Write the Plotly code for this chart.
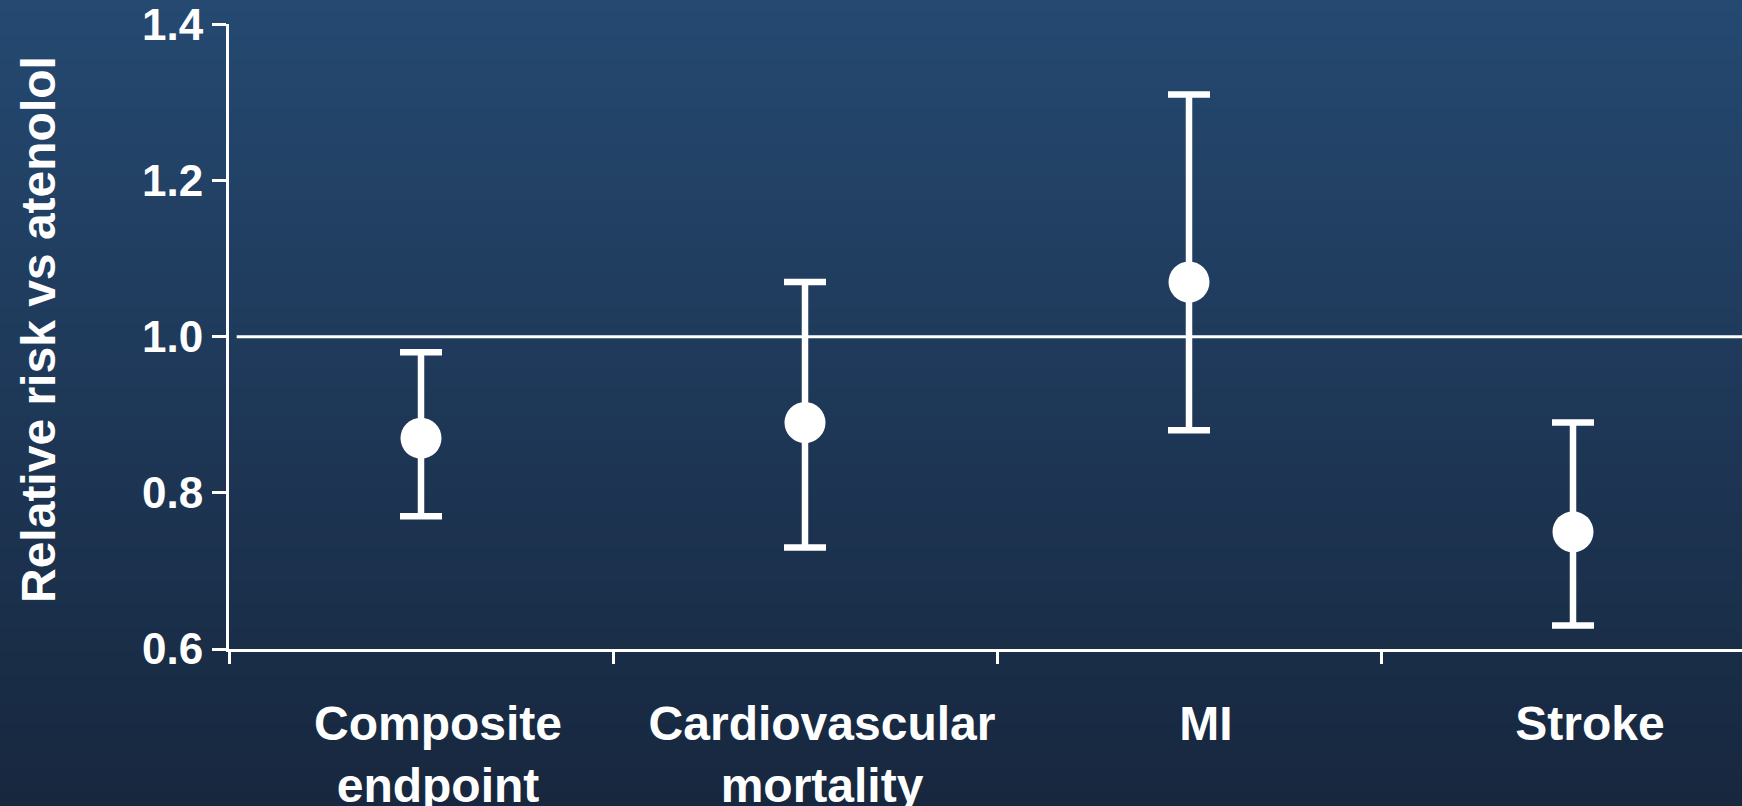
import base64
import struct
import zlib

import plotly.graph_objects as go

# LIFE trial: losartan relative risk vs atenolol, with 95% CI
categories = ["Composite<br>endpoint", "Cardiovascular<br>mortality", "MI", "Stroke"]
relative_risk = [0.87, 0.89, 1.07, 0.75]
ci_lower = [0.77, 0.73, 0.88, 0.63]
ci_upper = [0.98, 1.07, 1.31, 0.89]
y_ticks = [0.6, 0.8, 1.0, 1.2, 1.4]

W, H = 1742, 806
M_L, M_R, M_T, M_B = 229, 0, 24, 157
PLOT_W = W - M_L - M_R
PLOT_H = H - M_T - M_B
FONT = "Liberation Sans, Arial, sans-serif"

TOP_RGB = (37, 73, 113)
BOTTOM_RGB = (23, 39, 62)


def gradient_png(width, height, top, bottom):
    raw = b""
    for r in range(height):
        t = r / (height - 1)
        px = bytes(int(round(a + (b - a) * t)) for a, b in zip(top, bottom))
        raw += b"\x00" + px * width

    def chunk(tag, data):
        c = struct.pack(">I", len(data)) + tag + data
        return c + struct.pack(">I", zlib.crc32(tag + data) & 0xFFFFFFFF)

    sig = b"\x89PNG\r\n\x1a\n"
    ihdr = struct.pack(">IIBBBBB", width, height, 8, 2, 0, 0, 0)
    data = sig + chunk(b"IHDR", ihdr) + chunk(b"IDAT", zlib.compress(raw, 9)) + chunk(b"IEND", b"")
    return "data:image/png;base64," + base64.b64encode(data).decode()


bg = gradient_png(8, H, TOP_RGB, BOTTOM_RGB)

x_pos = list(range(len(categories)))
err_plus = [u - v for u, v in zip(ci_upper, relative_risk)]
err_minus = [v - l for v, l in zip(relative_risk, ci_lower)]

x_end = -0.5 + PLOT_W / 384.0

fig = go.Figure()
fig.add_trace(
    go.Scatter(
        x=x_pos,
        y=relative_risk,
        mode="markers",
        marker=dict(size=41, color="white", line=dict(width=0)),
        error_y=dict(
            type="data",
            symmetric=False,
            array=err_plus,
            arrayminus=err_minus,
            color="white",
            thickness=6.5,
            width=21,
        ),
        showlegend=False,
        hoverinfo="skip",
    )
)

# Reference line at RR = 1.0
fig.add_shape(
    type="line",
    xref="x",
    yref="y",
    x0=-0.48,
    x1=x_end,
    y0=1.0,
    y1=1.0,
    line=dict(color="white", width=3),
    layer="below",
)

fig.add_layout_image(
    dict(
        source=bg,
        xref="paper",
        yref="paper",
        x=-M_L / PLOT_W,
        y=1 + M_T / PLOT_H,
        sizex=W / PLOT_W,
        sizey=H / PLOT_H,
        sizing="stretch",
        xanchor="left",
        yanchor="top",
        layer="below",
    )
)

fig.add_annotation(
    text="Relative risk vs atenolol",
    textangle=-90,
    xref="paper",
    yref="paper",
    x=(38 - M_L) / PLOT_W,
    y=(649 - 329) / PLOT_H,
    xanchor="center",
    yanchor="middle",
    showarrow=False,
    font=dict(family=FONT, size=48, color="white", weight="bold"),
)

fig.update_layout(
    width=W,
    height=H,
    margin=dict(l=M_L, r=M_R, t=M_T, b=M_B, autoexpand=False),
    paper_bgcolor="rgb(30,56,88)",
    plot_bgcolor="rgba(0,0,0,0)",
    font=dict(family=FONT, color="white", weight="bold"),
    xaxis=dict(
        range=[-0.5, x_end],
        tickvals=x_pos,
        ticktext=categories,
        ticks="outside",
        ticklen=30,
        tickcolor="rgba(0,0,0,0)",
        ticklabelshift=17,
        tickfont=dict(family=FONT, size=48, color="white", weight="bold"),
        showline=True,
        linecolor="white",
        linewidth=3,
        showgrid=False,
        zeroline=False,
        fixedrange=True,
        minor=dict(
            tickvals=[-0.5, 0.5, 1.5, 2.5],
            ticks="outside",
            ticklen=12,
            tickwidth=3,
            tickcolor="white",
            showgrid=False,
        ),
    ),
    yaxis=dict(
        range=[0.6, 1.4004],
        tickvals=y_ticks,
        tickformat=".1f",
        ticks="outside",
        ticklen=14,
        tickwidth=3,
        tickcolor="white",
        tickfont=dict(family=FONT, size=44, color="white", weight="bold"),
        ticklabeloverflow="allow",
        showline=True,
        linecolor="white",
        linewidth=3,
        showgrid=False,
        zeroline=False,
        fixedrange=True,
    ),
)

fig.write_html("out.html")
